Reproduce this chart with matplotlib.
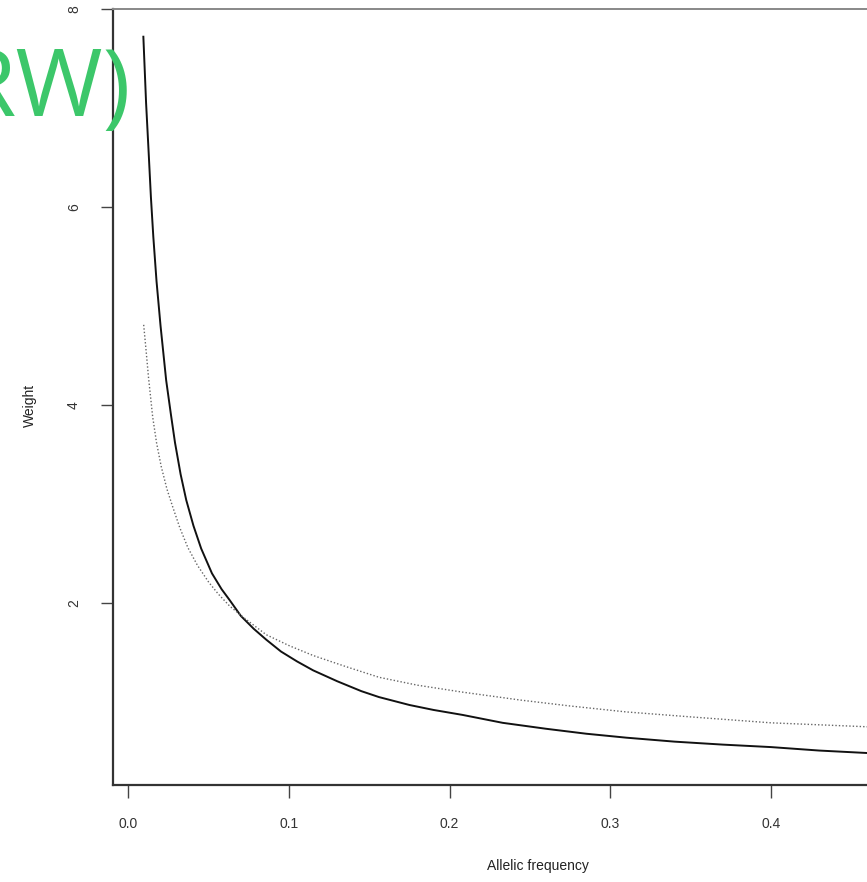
import numpy as np
import matplotlib.pyplot as plt

plt.rcParams["font.family"] = ["Liberation Sans", "DejaVu Sans"]

# values
freq_solid = [0.0093, 0.0110, 0.0126, 0.0140, 0.0155, 0.0175, 0.0200, 0.0235,
              0.0265, 0.0290, 0.0325, 0.0360, 0.0405, 0.0453, 0.0520, 0.0580,
              0.0630, 0.0700, 0.0780, 0.0858, 0.0950, 0.1050, 0.1150, 0.1300,
              0.1450, 0.1560, 0.1750, 0.1900, 0.2080, 0.2330, 0.2600, 0.2850,
              0.3100, 0.3400, 0.3700, 0.4000, 0.4300, 0.4600, 0.5000]
weight_solid = [7.72, 7.05, 6.55, 6.10, 5.70, 5.25, 4.80, 4.25,
                3.90, 3.62, 3.30, 3.04, 2.78, 2.55, 2.30, 2.14,
                2.03, 1.87, 1.74, 1.63, 1.51, 1.41, 1.32, 1.21,
                1.11, 1.05, 0.97, 0.92, 0.87, 0.79, 0.73, 0.68,
                0.64, 0.60, 0.57, 0.545, 0.51, 0.485, 0.45]

freq_dot = [0.0095, 0.0110, 0.0125, 0.0140, 0.0151, 0.0175, 0.0204, 0.0240,
            0.0276, 0.0320, 0.0370, 0.0430, 0.0500, 0.0560, 0.0630, 0.0720,
            0.0858, 0.1000, 0.1150, 0.1350, 0.1560, 0.1800, 0.2080, 0.2440,
            0.2750, 0.3100, 0.3500, 0.4000, 0.4600, 0.5000]
weight_dot = [4.81, 4.55, 4.28, 4.05, 3.88, 3.62, 3.38, 3.15,
              2.97, 2.76, 2.56, 2.38, 2.21, 2.09, 1.97, 1.85,
              1.68, 1.57, 1.47, 1.36, 1.25, 1.17, 1.10, 1.02,
              0.96, 0.90, 0.85, 0.79, 0.75, 0.72]

x_ticks = [0.0, 0.1, 0.2, 0.3, 0.4]
y_ticks = [2, 4, 6, 8]

fig = plt.figure(figsize=(8.67, 8.82), dpi=100)
ax = fig.add_axes([113 / 867, 97 / 882, 850 / 867, 776 / 882])

ax.plot(freq_solid, weight_solid, color="#111111", lw=1.4)
ax.plot(freq_dot, weight_dot, color="#666666", lw=1.0, linestyle=(0, (1, 1.5)))

ax.set_xlim(-0.0096, 0.5196)
ax.set_ylim(0.162, 8.0)
ax.set_xticks(x_ticks)
ax.set_xticklabels(["0.0", "0.1", "0.2", "0.3", "0.4"])
ax.set_yticks(y_ticks)
ax.set_yticklabels([str(v) for v in y_ticks], rotation=90, va="center")
ax.tick_params(direction="out", length=9, width=1.0, color="#444444",
               labelsize=10, labelcolor="#333333", pad=14)
for side in ["left", "bottom"]:
    ax.spines[side].set_color("#333333")
    ax.spines[side].set_linewidth(1.6)
ax.spines["top"].set_color("#888888")
ax.spines["top"].set_linewidth(1.4)
ax.spines["right"].set_visible(False)

ax.set_xlabel("Allelic frequency", fontsize=10, color="#222222", labelpad=20)
fig.text(30 / 867, 1 - 405 / 882, "Weight", rotation=90, fontsize=10,
         color="#222222", ha="center", va="center")

fig.text(131 / 867, 1 - 116 / 882, "RW)", fontsize=68, color="#3cc76a",
         family=["Open Sans", "DejaVu Sans"], ha="right", va="baseline")

fig.savefig("out.png", dpi=100)
